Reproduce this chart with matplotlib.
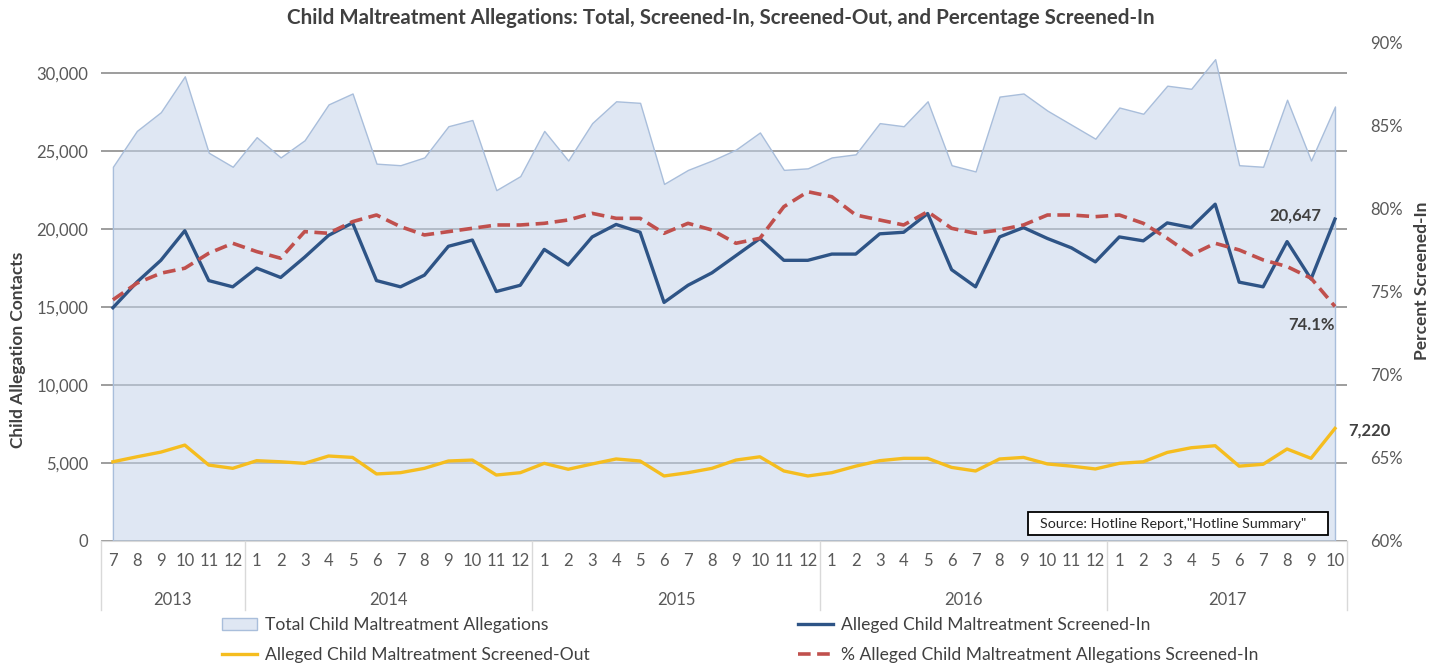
import matplotlib
matplotlib.use('Agg')
import matplotlib.pyplot as plt
import matplotlib.transforms as mtransforms
from matplotlib.patches import Patch, Rectangle
from matplotlib.lines import Line2D
from matplotlib.ticker import FuncFormatter

plt.rcParams['font.family'] = ['Lato', 'DejaVu Sans']

months = [7, 8, 9, 10, 11, 12,
          1, 2, 3, 4, 5, 6, 7, 8, 9, 10, 11, 12,
          1, 2, 3, 4, 5, 6, 7, 8, 9, 10, 11, 12,
          1, 2, 3, 4, 5, 6, 7, 8, 9, 10, 11, 12,
          1, 2, 3, 4, 5, 6, 7, 8, 9, 10]
years = ['2013', '2014', '2015', '2016', '2017']
year_len = [6, 12, 12, 12, 10]

total = [24000, 26300, 27500, 29800, 24900, 24000, 25900, 24600, 25700, 28000, 28700, 24200,
         24100, 24600, 26600, 27000, 22500, 23400, 26300, 24400, 26800, 28200, 28100, 22900,
         23800, 24400, 25100, 26200, 23800, 23900, 24600, 24800, 26800, 26600, 28200, 24100,
         23700, 28500, 28700, 27600, 26700, 25800, 27800, 27400, 29200, 29000, 30900, 24100,
         24000, 28300, 24400, 27867]
screened_in = [14960, 16600, 18000, 19900, 16700, 16300, 17500, 16900, 18200, 19600, 20400, 16700,
               16300, 17050, 18900, 19300, 16000, 16400, 18700, 17700, 19500, 20300, 19800, 15300,
               16400, 17200, 18300, 19400, 18000, 18000, 18400, 18400, 19700, 19800, 21000, 17400,
               16300, 19500, 20100, 19400, 18800, 17900, 19500, 19250, 20400, 20100, 21600, 16600,
               16300, 19200, 16800, 20647]
screened_out = [5080, 5400, 5700, 6150, 4870, 4660, 5150, 5080, 4980, 5450, 5360, 4300,
                4380, 4660, 5130, 5190, 4230, 4380, 4980, 4600, 4940, 5260, 5130, 4170,
                4380, 4660, 5190, 5400, 4490, 4170, 4380, 4800, 5150, 5300, 5300, 4720,
                4490, 5260, 5360, 4940, 4800, 4620, 4980, 5080, 5680, 5980, 6110, 4800,
                4920, 5900, 5300, 7220]
pct_in = [74.5, 75.5, 76.1, 76.4, 77.3, 77.9, 77.4, 77.0, 78.6, 78.5, 79.2, 79.6,
          78.9, 78.4, 78.6, 78.8, 79.0, 79.0, 79.1, 79.3, 79.7, 79.4, 79.4, 78.5,
          79.1, 78.7, 77.9, 78.2, 80.1, 81.0, 80.7, 79.6, 79.3, 79.0, 79.8, 78.8,
          78.5, 78.7, 79.0, 79.6, 79.6, 79.5, 79.6, 79.1, 78.2, 77.2, 77.9, 77.5,
          76.9, 76.5, 75.8, 74.1]

fill_c = (0.773, 0.835, 0.918, 0.55)
edge_c = '#a9bedb'
blue = '#2e5486'
yellow = '#f5bd1f'
red = '#c0504d'
txt = '#404040'
tick_c = '#595959'

x = list(range(len(months)))

fig = plt.figure(figsize=(14.42, 6.66), dpi=100)
ax = fig.add_axes([0.0700, 0.1877, 0.8641, 0.7492])
ax.set_xlim(-0.5, len(months) - 0.5)
ax.set_ylim(0, 32000)
ax.set_yticks(range(0, 30001, 5000))
ax.yaxis.set_major_formatter(FuncFormatter(lambda v, p: f'{int(v):,}'))
ax.yaxis.grid(True, color='#8c8c8c', lw=1.2)
ax.set_axisbelow(True)

ax.fill_between(x, total, facecolor=fill_c, edgecolor=edge_c, lw=1, zorder=1)
ax.plot(x, screened_in, color=blue, lw=2.4, zorder=3)
ax.plot(x, screened_out, color=yellow, lw=2.4, zorder=3)

ax.set_xticks(x)
ax.set_xticklabels(months)
ax.tick_params(axis='x', length=0, pad=9, labelsize=12, labelcolor=tick_c)
ax.tick_params(axis='y', length=0, pad=9, labelsize=12, labelcolor=tick_c)
for s in ['top', 'left', 'right']:
    ax.spines[s].set_visible(False)
ax.spines['bottom'].set_color('#d9d9d9')

# two-level category axis: years and separators
trans = mtransforms.blended_transform_factory(ax.transData, ax.transAxes)
start = 0
for yr, n in zip(years, year_len):
    ax.text(start + (n - 1) / 2, -0.118, yr, transform=trans, ha='center', va='center',
            fontsize=12, color=tick_c)
    ax.plot([start - 0.5, start - 0.5], [0, -0.138], transform=trans, clip_on=False,
            color='#d9d9d9', lw=1)
    start += n
ax.plot([start - 0.5, start - 0.5], [0, -0.138], transform=trans, clip_on=False,
        color='#d9d9d9', lw=1)

ax.set_ylabel('Child Allegation Contacts', fontsize=12.5, fontweight='bold', color=txt)
ax.yaxis.set_label_coords(-0.060, 0.383)

ax2 = ax.twinx()
ax2.set_ylim(60, 90)
ax2.set_yticks(range(60, 91, 5))
ax2.yaxis.set_major_formatter(FuncFormatter(lambda v, p: f'{int(v)}%'))
ax2.tick_params(axis='y', length=0, pad=17, labelsize=12, labelcolor=tick_c)
for s in ax2.spines.values():
    s.set_visible(False)
ax2.plot(x, pct_in, color=red, lw=2.6, linestyle=(0, (3.5, 1.8)), zorder=4)
ax2.set_ylabel('Percent Screened-In', fontsize=12.5, fontweight='bold', color=txt)
ax2.yaxis.set_label_coords(1.054, 0.521)

# end labels
ax.text(50.45, 20900, f'{screened_in[-1]:,}', ha='right', va='center', fontsize=12,
        fontweight='bold', color=txt)
ax2.text(51.0, 73.0, f'{pct_in[-1]}%', ha='right', va='center', fontsize=12,
         fontweight='bold', color=txt)
ax.text(51.55, 7100, f'{screened_out[-1]:,}', ha='left', va='center', fontsize=12,
        fontweight='bold', color=txt, clip_on=False)

# source box
ax2.add_patch(Rectangle((0.744, 0.012), 0.2408, 0.046, transform=ax.transAxes,
                        facecolor='white', edgecolor='black', lw=1.3, zorder=5))
ax2.text(0.7536, 0.035, 'Source: Hotline Report,"Hotline Summary"', transform=ax.transAxes,
         ha='left', va='center', fontsize=10.3, color='#262626', zorder=6)

fig.text(0.5, 1 - 18 / 666, 'Child Maltreatment Allegations: Total, Screened-In, Screened-Out, and Percentage Screened-In',
         ha='center', va='center', fontsize=14.8, fontweight='bold', color=txt)

h_total = Patch(facecolor=fill_c, edgecolor=edge_c, lw=1)
h_out = Line2D([], [], color=yellow, lw=2.4)
h_in = Line2D([], [], color=blue, lw=2.4)
h_pct = Line2D([], [], color=red, lw=2.6, linestyle=(0, (3.5, 1.8)))

leg_kw = dict(loc='upper left', frameon=False, fontsize=12.6, labelcolor=txt, handlelength=2.0,
              handletextpad=0.46, borderpad=0, borderaxespad=0, labelspacing=0.8)
fig.legend([h_total, h_out], ['Total Child Maltreatment Allegations',
                              'Alleged Child Maltreatment Screened-Out'],
           bbox_to_anchor=(222 / 1442, 1 - 617 / 666), **leg_kw)
fig.legend([h_in, h_pct], ['Alleged Child Maltreatment Screened-In',
                           '% Alleged Child Maltreatment Allegations Screened-In'],
           bbox_to_anchor=(798 / 1442, 1 - 617 / 666), **leg_kw)

fig.savefig('out.png', dpi=100)
